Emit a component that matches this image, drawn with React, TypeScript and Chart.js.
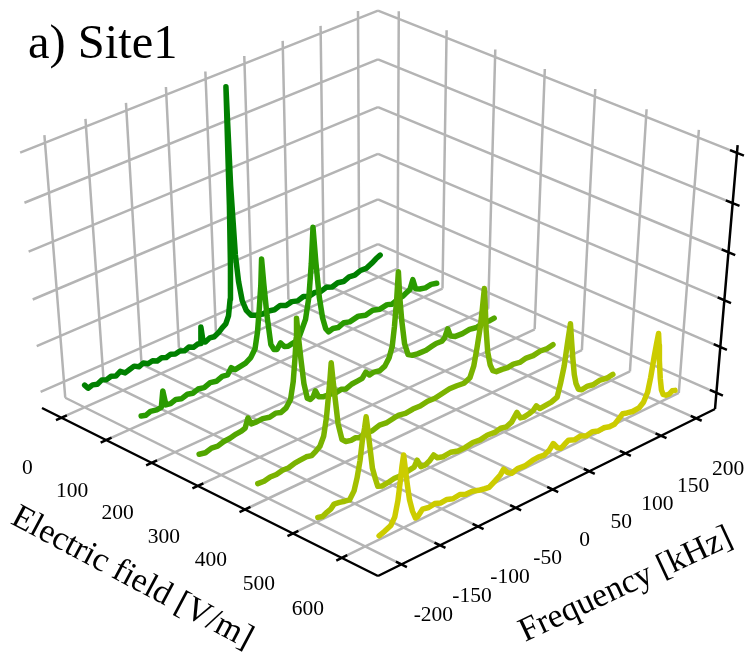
import React, { useEffect, useRef } from "react";
import { Chart, registerables } from "chart.js";

Chart.register(...registerables);

// ---- axis content ----
const fieldTicks = [0, 100, 200, 300, 400, 500, 600];
const freqTicks = [-200, -150, -100, -50, 0, 50, 100, 150, 200];
const ampTicks = [0, 1, 2, 3, 4, 5];
const traceFields = [0, 125, 250, 375, 500, 625];
const traceBaselines = [0, 0, -0.23, -0.24, -0.32, -0.05];
const traceColors = ["#008000", "#299a00", "#52a600", "#7ab300", "#a3c000", "#cccc00"];
const FIELD_RANGE = [-44, 673];
const FREQ_RANGE = [-230, 227];
const AMP_RANGE = [-0.36, 5.15];
const FREQ_READ_OFFSET = 2;

// ---- series: [frequency kHz, amplitude] ----
const trace1: [number, number][] = [
  [-200, 0.12], [-196, 0.02], [-190, 0.05], [-184, 0.02], [-178, 0.07], [-172, 0.03], [-166, 0.06], [-160, 0.02],
  [-154, 0.08], [-148, 0.0], [-142, 0.03], [-136, 0.06], [-130, 0.0], [-124, 0.04], [-118, -0.02], [-112, 0.0],
  [-106, -0.05], [-100, -0.02], [-94, -0.06], [-88, -0.03], [-82, -0.07], [-76, -0.05], [-70, -0.09], [-64, -0.05],
  [-58, -0.1], [-52, -0.07], [-49, -0.08], [-47, 0.27], [-45, -0.06], [-42, -0.1], [-36, -0.05], [-30, -0.07],
  [-24, -0.02], [-19, 0.05], [-14, 0.1], [-10, 0.25], [-7, 0.6], [-5, 1.3], [-3.5, 2.6], [-2.5, 5.02], [-1, 3.0],
  [2, 1.5], [5, 0.9], [9, 0.45], [14, 0.2], [20, 0.05], [27, 0.0], [36, -0.04], [44, -0.03], [52, -0.06],
  [60, -0.02], [68, -0.08], [76, -0.05], [84, -0.09], [92, -0.05], [100, -0.1], [108, -0.07], [116, -0.11],
  [124, -0.07], [132, -0.12], [140, -0.08], [148, -0.11], [156, -0.06], [164, -0.08], [172, -0.03], [180, -0.04],
  [188, 0.02], [194, 0.08], [200, 0.12],
];
const trace2: [number, number][] = [
  [-200, 0.05], [-194, 0.02], [-188, 0.06], [-180, 0.03], [-174, 0.04], [-171, 0.38], [-168, 0.05], [-162, 0.03],
  [-155, 0.07], [-148, 0.03], [-140, 0.07], [-133, 0.04], [-126, 0.08], [-118, 0.05], [-110, 0.1], [-102, 0.07],
  [-94, 0.12], [-87, 0.1], [-82, 0.22], [-77, 0.14], [-70, 0.16], [-63, 0.18], [-56, 0.25], [-50, 0.4], [-46, 0.75],
  [-43, 1.2], [-40, 1.7], [-38, 2.25], [-36, 1.7], [-33, 1.0], [-29, 0.34], [-25, 0.2], [-21, 0.17], [-16, 0.28],
  [-11, 0.16], [-6, 0.13], [0, 0.15], [4, 0.16], [10, 0.26], [18, 0.55], [23, 1.0], [27, 1.7], [30, 2.45], [33, 1.7],
  [37, 0.9], [41, 0.42], [45, 0.15], [49, 0.05], [55, 0.08], [62, 0.05], [70, 0.1], [78, 0.06], [90, 0.1], [100, 0.05],
  [110, 0.09], [120, 0.04], [130, 0.07], [137, 0.03], [145, 0.08], [152, 0.1], [157, 0.14], [162, 0.18], [166, 0.37],
  [170, 0.14], [176, 0.09], [184, 0.06], [192, 0.08], [200, 0.05],
];
const trace3: [number, number][] = [
  [-200, 0.06], [-192, 0.03], [-184, 0.07], [-176, 0.05], [-168, 0.09], [-160, 0.1], [-152, 0.13], [-145, 0.14],
  [-140, 0.17], [-136, 0.36], [-132, 0.2], [-125, 0.19], [-117, 0.2], [-108, 0.16], [-100, 0.19], [-93, 0.15],
  [-86, 0.2], [-80, 0.34], [-76, 0.7], [-73, 1.2], [-71, 1.6], [-70, 2.02], [-68, 1.6], [-65, 1.05], [-62, 0.55],
  [-58, 0.2], [-54, 0.14], [-50, 0.17], [-47, 0.28], [-43, 0.12], [-37, 0.07], [-28, 0.06], [-20, 0.03], [-12, 0.05],
  [-6, 0.01], [2, 0.06], [10, 0.07], [16, 0.08], [21, 0.18], [26, 0.08], [32, 0.1], [40, 0.07], [47, 0.12], [53, 0.27],
  [57, 0.48], [60, 0.9], [63, 1.5], [65, 2.05], [67, 1.5], [70, 0.95], [74, 0.42], [79, 0.14], [85, 0.08], [92, 0.06],
  [104, 0.05], [112, 0.08], [118, 0.1], [126, 0.09], [130, 0.14], [134, 0.31], [138, 0.12], [145, 0.06], [155, 0.05],
  [165, 0.07], [175, 0.04], [185, 0.08], [193, 0.06], [200, 0.07],
];
const trace4: [number, number][] = [
  [-200, 0.06], [-192, 0.05], [-184, 0.08], [-176, 0.07], [-168, 0.1], [-160, 0.09], [-152, 0.13], [-145, 0.14],
  [-137, 0.15], [-130, 0.12], [-124, 0.18], [-119, 0.24], [-114, 0.42], [-110, 0.8], [-107, 1.25], [-105, 1.55],
  [-103, 1.92], [-101, 1.55], [-98, 1.05], [-95, 0.55], [-90, 0.16], [-85, 0.08], [-78, 0.05], [-72, 0.06], [-67, 0.02],
  [-58, 0.06], [-50, 0.04], [-40, 0.09], [-30, 0.07], [-20, 0.1], [-14, 0.11], [-5, 0.08], [5, 0.1], [15, 0.09],
  [25, 0.12], [35, 0.11], [45, 0.14], [55, 0.17], [65, 0.16], [75, 0.14], [83, 0.2], [88, 0.42], [92, 0.8], [96, 1.25],
  [98, 1.6], [100, 2.02], [102, 1.6], [104, 1.1], [107, 0.6], [111, 0.28], [115, 0.12], [120, 0.06], [128, 0.05],
  [136, 0.03], [144, 0.05], [153, 0.02], [162, 0.05], [172, 0.03], [182, 0.06], [192, 0.04], [200, 0.07],
];
const trace5: [number, number][] = [
  [-200, 0.05], [-194, 0.02], [-188, 0.07], [-183, 0.1], [-179, 0.17], [-172, 0.15], [-165, 0.12], [-159, 0.1],
  [-153, 0.25], [-149, 0.5], [-145, 0.85], [-142, 1.25], [-139, 1.5], [-137, 1.72], [-135, 1.45], [-132, 1.0],
  [-129, 0.55], [-125, 0.28], [-122, 0.1], [-116, 0.06], [-107, 0.08], [-100, 0.1], [-92, 0.09], [-82, 0.12],
  [-74, 0.14], [-70, 0.26], [-65, 0.08], [-59, 0.07], [-53, 0.12], [-48, 0.2], [-43, 0.1], [-35, 0.06], [-25, 0.08],
  [-15, 0.03], [-5, 0.03], [5, 0.06], [15, 0.04], [25, 0.07], [35, 0.05], [43, 0.08], [51, 0.05], [58, 0.1], [65, 0.26],
  [70, 0.1], [75, 0.08], [82, 0.1], [88, 0.13], [92, 0.2], [97, 0.1], [105, 0.11], [113, 0.12], [121, 0.17], [125, 0.45],
  [129, 0.8], [132, 1.25], [135, 1.67], [138, 1.25], [141, 0.85], [144, 0.5], [147, 0.28], [151, 0.12], [156, 0.07],
  [163, 0.09], [172, 0.06], [182, 0.09], [192, 0.06], [200, 0.08],
];
const trace6: [number, number][] = [
  [-200, 0.04], [-193, 0.08], [-185, 0.14], [-180, 0.28], [-176, 0.6], [-173, 1.0], [-171, 1.3], [-169, 1.52],
  [-167, 1.25], [-164, 0.85], [-161, 0.5], [-157, 0.22], [-153, 0.04], [-150, 0.05], [-144, 0.16], [-136, 0.13],
  [-128, 0.15], [-120, 0.1], [-112, 0.11], [-104, 0.06], [-95, 0.08], [-87, 0.02], [-79, 0.02], [-70, -0.03],
  [-62, -0.06], [-56, -0.08], [-48, 0.0], [-41, 0.08], [-37, 0.17], [-32, 0.06], [-26, -0.01], [-18, 0.03], [-8, 0.01],
  [2, 0.05], [10, 0.06], [18, 0.04], [25, 0.1], [30, 0.2], [36, 0.06], [41, 0.01], [46, 0.06], [51, 0.11], [60, 0.05],
  [68, 0.07], [76, 0.01], [84, 0.04], [92, -0.01], [100, 0.0], [108, -0.04], [115, -0.04], [121, 0.04], [126, 0.11],
  [132, 0.08], [140, 0.05], [149, 0.06], [155, 0.14], [160, 0.32], [163, 0.62], [166, 1.05], [168, 1.3], [170, 1.52],
  [172, 1.25], [174, 0.9], [177, 0.5], [180, 0.22], [183, 0.1], [187, 0.05], [192, 0.04], [196, 0.08], [200, 0.06],
];
const traces = [trace1, trace2, trace3, trace4, trace5, trace6];

// ---- camera: where the corners of the plotting box fall on the page ----
const O = [42, 408, 1];
const U = [378, 576, 1];
const V = [378, 260, 1];
const W = [19.5, 145, 1];
const R = [715, 409, 1];
const T = [378, 0, 1];

function solveWeights() {
  // a U + b V - O = k R
  const k = (U[0] - O[0]) / (R[0] - U[0] + (U[0] - V[0]));
  const sum = k + 1;
  const rhs = O[1] + k * R[1];
  const a = (rhs - V[1] * sum) / (U[1] - V[1]);
  const b = sum - a;
  // b V + c W - O = m T
  const c = ((b * V[0] - O[0]) - T[0] * (b - 1)) / (T[0] - W[0]);
  return { a, b, c };
}
const { a: wa, b: wb, c: wc } = solveWeights();

function project(field: number, freq: number, amp: number) {
  const u = (field - FIELD_RANGE[0]) / (FIELD_RANGE[1] - FIELD_RANGE[0]);
  const v = (freq - FREQ_RANGE[0]) / (FREQ_RANGE[1] - FREQ_RANGE[0]);
  const w = (amp - AMP_RANGE[0]) / (AMP_RANGE[1] - AMP_RANGE[0]);
  const h = [0, 1, 2].map(
    (i) => O[i] + u * (wa * U[i] - O[i]) + v * (wb * V[i] - O[i]) + w * (wc * W[i] - O[i])
  );
  return { x: h[0] / h[2], y: h[1] / h[2] };
}

const GAP = { x: NaN, y: NaN };
const [fMin, fMax] = FIELD_RANGE;
const [qMin, qMax] = FREQ_RANGE;
const [aMin, aMax] = AMP_RANGE;

function gridSegments() {
  const pts: { x: number; y: number }[] = [];
  const seg = (p: number[], q: number[]) => {
    pts.push(project(p[0], p[1], p[2]), project(q[0], q[1], q[2]), GAP);
  };
  freqTicks.forEach((q) => {
    seg([fMin, q, aMin], [fMin, q, aMax]);
    seg([fMin, q, aMin], [fMax, q, aMin]);
  });
  fieldTicks.forEach((f) => {
    seg([f, qMax, aMin], [f, qMax, aMax]);
    seg([f, qMin, aMin], [f, qMax, aMin]);
  });
  ampTicks.forEach((a) => {
    seg([fMin, qMin, a], [fMin, qMax, a]);
    seg([fMin, qMax, a], [fMax, qMax, a]);
  });
  return pts;
}

function axisSegments() {
  const pts: { x: number; y: number }[] = [];
  const seg = (p: number[], q: number[]) => {
    pts.push(project(p[0], p[1], p[2]), project(q[0], q[1], q[2]), GAP);
  };
  seg([fMin, qMin, aMin], [fMax, qMin, aMin]);
  seg([fMax, qMin, aMin], [fMax, qMax, aMin]);
  seg([fMax, qMax, aMin], [fMax, qMax, aMax]);
  fieldTicks.forEach((f) => seg([f, qMin - 7, aMin], [f, qMin + 7, aMin]));
  freqTicks.forEach((q) => seg([fMax - 11, q, aMin], [fMax + 11, q, aMin]));
  ampTicks.forEach((a) => seg([fMax - 13, qMax, a], [fMax + 13, qMax, a]));
  return pts;
}

const SERIF = '"Liberation Serif", "Times New Roman", serif';

const textPlugin = {
  id: "boxText",
  afterDatasetsDraw(chart: any) {
    const { ctx, scales } = chart;
    const px = (p: { x: number; y: number }) => ({
      x: scales.x.getPixelForValue(p.x),
      y: scales.y.getPixelForValue(p.y),
    });
    ctx.save();
    ctx.fillStyle = "#000";
    ctx.textBaseline = "middle";
    ctx.textAlign = "center";
    ctx.font = `21.5px ${SERIF}`;
    fieldTicks.forEach((f) => {
      const p = px(project(f, qMin, aMin));
      ctx.fillText(String(f), p.x - 34, p.y + 51);
    });
    freqTicks.forEach((q) => {
      const p = px(project(fMax, q, aMin));
      ctx.fillText(String(q), p.x + 32, p.y + 51);
    });
    ctx.font = `34px ${SERIF}`;
    ctx.save();
    ctx.translate(132, 578);
    ctx.rotate((28 * Math.PI) / 180);
    ctx.fillText("Electric field [V/m]", 0, 0);
    ctx.restore();
    ctx.save();
    ctx.translate(626, 585);
    ctx.rotate((-25 * Math.PI) / 180);
    ctx.fillText("Frequency [kHz]", 0, 0);
    ctx.restore();
    ctx.font = `48.5px ${SERIF}`;
    ctx.textAlign = "left";
    ctx.textBaseline = "alphabetic";
    ctx.fillText("a) Site1", 28, 58);
    ctx.restore();
  },
};

export default function App() {
  const ref = useRef<HTMLCanvasElement>(null);
  useEffect(() => {
    if (!ref.current) return;
    const lineStyle = { type: "scatter", showLine: true, pointRadius: 0, spanGaps: false, clip: false, tension: 0 };
    const chart = new Chart(ref.current, {
      type: "scatter",
      data: {
        datasets: [
          ...traces.map((tr, i) => ({
            ...lineStyle,
            label: `${traceFields[i]} V/m`,
            data: tr.map(([q, a]) => project(traceFields[i], q + FREQ_READ_OFFSET, a + traceBaselines[i])),
            borderColor: traceColors[i],
            borderWidth: 5.5,
            borderCapStyle: "round",
            borderJoinStyle: "round",
            order: 6 - i,
          })),
          { ...lineStyle, label: "axes", data: axisSegments(), borderColor: "#000", borderWidth: 2.5, order: 20 },
          { ...lineStyle, label: "grid", data: gridSegments(), borderColor: "#b4b4b4", borderWidth: 2.5, order: 30 },
        ],
      } as any,
      options: {
        animation: false,
        responsive: false,
        layout: { padding: 0 },
        plugins: { legend: { display: false }, tooltip: { enabled: false }, title: { display: false } },
        scales: {
          x: { type: "linear", min: 0, max: 750, display: false },
          y: { type: "linear", min: 0, max: 656, reverse: true, display: false },
        },
      } as any,
      plugins: [textPlugin],
    });
    return () => chart.destroy();
  }, []);
  return (
    <canvas
      ref={ref}
      width={750}
      height={656}
      style={{ position: "absolute", left: 0, top: 0, width: 750, height: 656, display: "block" }}
    />
  );
}
